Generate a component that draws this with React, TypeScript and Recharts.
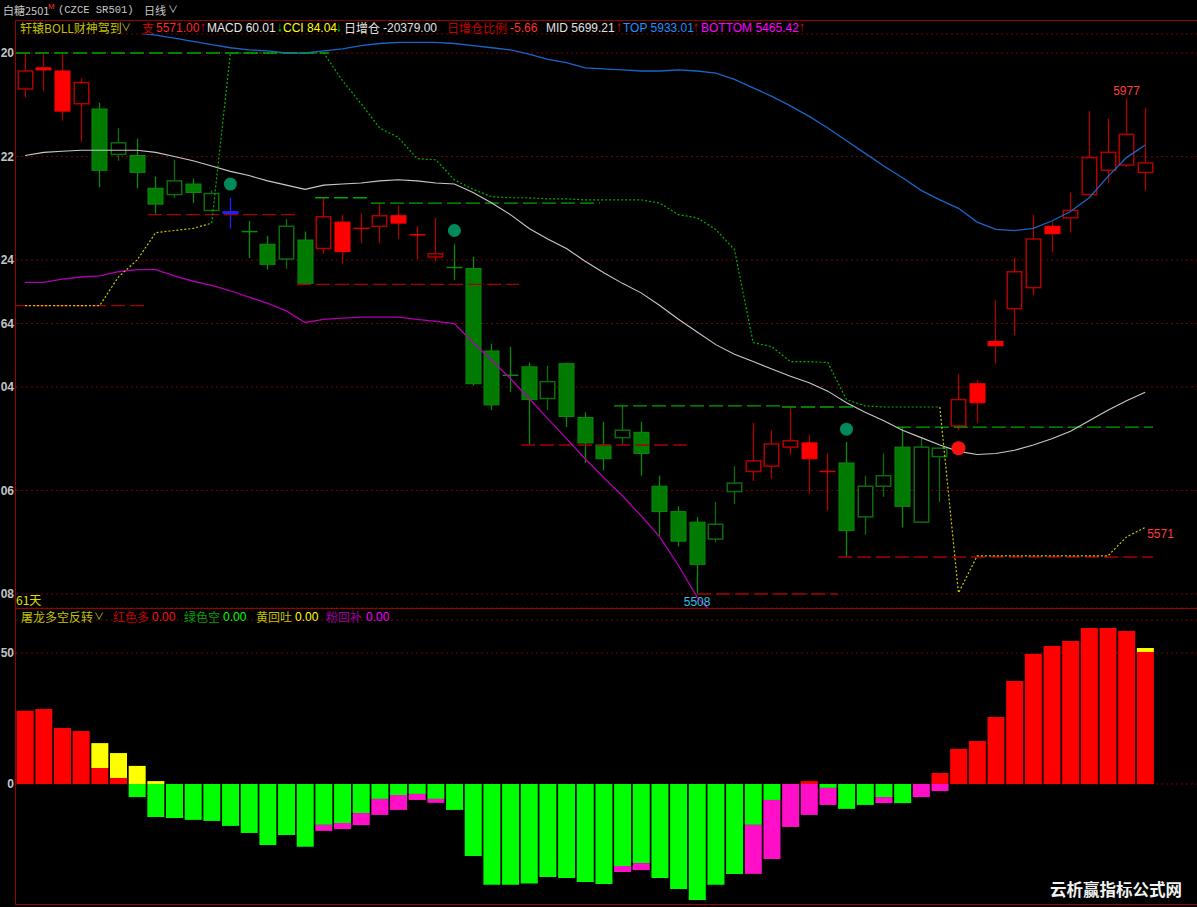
import React from 'react';
import {
  ComposedChart,
  Bar,
  Line,
  XAxis,
  YAxis,
  CartesianGrid,
  ReferenceLine,
  ReferenceDot,
} from 'recharts';

// ---------------- data ----------------
const candleIndex = Array.from({ length: 61 }, (_, i) => i);

const opens = [
  5986, 6006, 6003, 5972, 5967, 5924, 5923, 5892, 5886, 5896, 5871, 5869, 5851, 5839, 5825, 5843,
  5835, 5860, 5854, 5856, 5866, 5848, 5827, 5817, 5816, 5738, 5715, 5723, 5693, 5726, 5675, 5649,
  5656, 5661, 5610, 5586, 5576, 5560, 5605, 5624, 5629, 5647, 5651, 5624, 5632, 5581, 5610, 5647,
  5576, 5638, 5667, 5707, 5747, 5778, 5798, 5856, 5864, 5886, 5909, 5914, 5907,
];
const highs = [
  6020, 6019, 6019, 5996, 5973, 5949, 5939, 5903, 5919, 5901, 5890, 5883, 5861, 5847, 5863, 5851,
  5883, 5867, 5868, 5877, 5876, 5856, 5864, 5839, 5827, 5745, 5742, 5727, 5724, 5727, 5680, 5671,
  5686, 5671, 5620, 5591, 5581, 5595, 5629, 5670, 5663, 5685, 5659, 5641, 5652, 5620, 5641, 5666,
  5655, 5646, 5716, 5711, 5786, 5826, 5867, 5860, 5888, 5965, 5958, 5977, 5968,
];
const lows = [
  5978, 5984, 5956, 5936, 5893, 5918, 5892, 5868, 5883, 5878, 5870, 5854, 5826, 5815, 5816, 5801,
  5830, 5820, 5840, 5840, 5844, 5825, 5823, 5805, 5705, 5682, 5699, 5649, 5682, 5666, 5632, 5625,
  5649, 5620, 5563, 5553, 5508, 5557, 5593, 5615, 5617, 5640, 5603, 5587, 5543, 5564, 5600, 5571,
  5576, 5595, 5663, 5670, 5726, 5753, 5791, 5831, 5850, 5886, 5897, 5912, 5890,
];
const closes = [
  6003, 6004, 5965, 5992, 5909, 5935, 5907, 5877, 5899, 5888, 5887, 5869, 5851, 5820, 5856, 5802,
  5865, 5832, 5854, 5866, 5859, 5848, 5830, 5817, 5707, 5687, 5715, 5692, 5709, 5676, 5651, 5636,
  5663, 5641, 5586, 5558, 5536, 5574, 5613, 5634, 5650, 5653, 5636, 5624, 5568, 5610, 5620, 5591,
  5647, 5646, 5692, 5689, 5743, 5813, 5844, 5849, 5871, 5921, 5926, 5943, 5916,
];
// r = red trend, g = green trend, b = blue marker candle
const candleTones = (
  'rrrr' + 'ggggggg' + 'b' + 'gggg' + 'rrrrrrr' + 'gggggggggggggggg' + 'rrrrr' + 'gggggg' + 'rrrrrrrrrrr'
).split('');

const midLine = [
  5923, 5926, 5927, 5928, 5928, 5928, 5928, 5926, 5922, 5918, 5913, 5908, 5904, 5899, 5895, 5891,
  5895, 5896, 5897, 5899, 5900, 5899, 5897, 5896, 5888, 5878, 5867, 5854, 5844, 5835, 5823, 5812,
  5802, 5793, 5781, 5768, 5756, 5744, 5735, 5728, 5721, 5714, 5708, 5700, 5689, 5680, 5672, 5663,
  5656, 5649, 5643, 5640, 5641, 5644, 5649, 5655, 5662, 5672, 5682, 5691, 5699,
];
const topLine = [
  6047, 6047, 6046, 6045, 6044, 6042, 6039, 6037, 6034, 6031, 6028, 6025, 6023, 6022, 6020, 6020,
  6022, 6024, 6027, 6029, 6030, 6030, 6030, 6029, 6027, 6025, 6023, 6019, 6014, 6011, 6006, 6005,
  6004, 6003, 6003, 6004, 6003, 6001, 5995, 5987, 5979, 5970, 5960, 5949, 5937, 5925, 5913, 5902,
  5890, 5881, 5873, 5860, 5853, 5852, 5854, 5861, 5870, 5883, 5903, 5921, 5933,
];
const bottomLine = [
  5803, 5803, 5806, 5808, 5809, 5813, 5815, 5815, 5809, 5804, 5800, 5795, 5789, 5783, 5776, 5765,
  5768, 5769, 5770, 5770, 5770, 5768, 5766, 5764, 5746, 5729, 5712, 5693, 5674, 5655, 5636, 5618,
  5601, 5582, 5562, 5535, 5505, 5487, 5475, 5469, 5463, 5458, 5456, 5451, 5441, 5435, 5431, 5424,
  5422, 5417, 5413, 5420, 5429, 5436, 5444, 5449, 5454, 5461, 5461, 5461, 5465,
];
const supportLine = [
  5781, 5781, 5781, 5781, 5781, 5808, 5824, 5850, 5852, 5854, 5859, 6020, 6020, 6020, 6020, 6020,
  6020, 5994, 5972, 5949, 5940, 5920, 5919, 5900, 5891, 5884, 5883, 5883, 5882, 5882, 5881, 5881,
  5881, 5881, 5878, 5867, 5864, 5853, 5834, 5746, 5742, 5728, 5728, 5727, 5692, 5686, 5685, 5685,
  5685, 5685, 5509, 5544, 5544, 5544, 5544, 5544, 5544, 5544, 5544, 5562, 5571,
];
// y = yellow (support under price), g = green (pressure above price)
const supportState = ('yyyyyyyyyyy' + 'g'.repeat(39) + 'yyyyyyyyyyy').split('');

const levelSegments = [
  { from: -0.48, to: 16.3, price: 6020, kind: 'g' },
  { from: -0.48, to: 6.43, price: 5781, kind: 'r' },
  { from: 6.59, to: 14.52, price: 5867, kind: 'r' },
  { from: 15.53, to: 18.48, price: 5883, kind: 'g' },
  { from: 18.53, to: 30.8, price: 5878, kind: 'g' },
  { from: 14.57, to: 26.46, price: 5801, kind: 'r' },
  { from: 26.57, to: 35.46, price: 5649, kind: 'r' },
  { from: 31.55, to: 40.5, price: 5686, kind: 'g' },
  { from: 40.55, to: 44.35, price: 5685, kind: 'g' },
  { from: 46.7, to: 60.42, price: 5666, kind: 'g' },
  { from: 43.55, to: 60.42, price: 5543, kind: 'r' },
  { from: 36, to: 43.55, price: 5508, kind: 'r' },
];

const greenDots = [
  { i: 11, v: 5896 },
  { i: 23, v: 5852 },
  { i: 44, v: 5664 },
];
const redDots = [{ i: 50, v: 5646 }];

const priceTicks = [5508, 5606, 5704, 5764, 5824, 5922, 6020];

const redBars = [
  28, 28.6, 21.4, 20.2, 6.1, 2.3, 0, 0, 0, 0, 0, 0, 0, 0, 0, 0, 0, 0, 0, 0, 0, 0, 0, 0, 0, 0, 0, 0,
  0, 0, 0, 0, 0, 0, 0, 0, 0, 0, 0, 0, 0, 0, 1.1, 0, 0, 0, 0, 0, 0, 4.2, 13.4, 16.4, 25.6, 39.3, 49.6,
  52.7, 54.6, 59.5, 59.5, 58.4, 50.4,
];
const yellowBars = [
  0, 0, 0, 0, 9.5, 9.5, 6.9, 1.1, 0, 0, 0, 0, 0, 0, 0, 0, 0, 0, 0, 0, 0, 0, 0, 0, 0, 0, 0, 0, 0, 0,
  0, 0, 0, 0, 0, 0, 0, 0, 0, 0, 0, 0, 0, 0, 0, 0, 0, 0, 0, 0, 0, 0, 0, 0, 0, 0, 0, 0, 0, 0, 1.5,
];
const greenBars = [
  0, 0, 0, 0, 0, 0, -5, -12.6, -13, -13.7, -14.1, -16, -18.7, -23.3, -19.5, -24, -15.6, -14.9,
  -11.1, -5.7, -4.2, -3.8, -5.7, -9.9, -27.5, -38.5, -38.5, -38, -35.5, -35.9, -37.4, -38.2, -31.3,
  -30.2, -35.9, -40.1, -44.3, -38.5, -34.4, -15.6, -6.1, 0, 0, -1.5, -9.5, -8, -5, -7.3, 0, 0, 0, 0,
  0, 0, 0, 0, 0, 0, 0, 0, 0,
];
const pinkBars = [
  0, 0, 0, 0, 0, 0, 0, 0, 0, 0, 0, 0, 0, 0, 0, 0, -2.3, -2.3, -4.6, -6.1, -5.7, -2.3, -1.5, 0, 0, 0,
  0, 0, 0, 0, 0, 0, -2.3, -2.7, 0, 0, 0, 0, 0, -18.7, -22.5, -16.4, -11.8, -6.5, 0, 0, -2.3, 0, -5,
  -2.7, 0, 0, 0, 0, 0, 0, 0, 0, 0, 0, 0,
];
const oscTicks = [0, 50];

// ---------------- derived table ----------------
const rows = candleIndex.map((i) => {
  const yellowOn = supportState[i] === 'y' || supportState[i + 1] === 'y';
  const greenOn = supportState[i] === 'g' || supportState[i + 1] === 'g';
  return {
    i,
    open: opens[i],
    high: highs[i],
    low: lows[i],
    close: closes[i],
    tone: candleTones[i],
    range: [lows[i], highs[i]],
    mid: midLine[i],
    top: topLine[i],
    bottom: bottomLine[i],
    supY: yellowOn ? supportLine[i] : null,
    supG: greenOn ? supportLine[i] : null,
    red: redBars[i],
    yellow: yellowBars[i],
    green: greenBars[i],
    pink: pinkBars[i],
  };
});

const X_DOMAIN: [number, number] = [-0.482, 62.775];

// ---------------- candle shape ----------------
function CandleShape(props: any) {
  const { x, y, width, height, payload } = props;
  if (!payload || x == null || y == null) return null;
  const { open, close, high, low, tone } = payload;
  const top = Math.min(y, y + height);
  const h = Math.abs(height);
  const k = high > low ? h / (high - low) : 0;
  const py = (v: number) => top + (high - v) * k;
  const cx = Math.round(x + width / 2) + 0.5;
  const bw = 16;
  const left = cx - bw / 2;
  const bTop = py(Math.max(open, close));
  const bBot = py(Math.min(open, close));
  const up = close > open;
  const doji = Math.abs(open - close) < 0.5;
  const yH = py(high);
  const yL = py(low);

  if (tone === 'b') {
    return (
      <g>
        <line x1={cx} x2={cx} y1={yH} y2={yL} stroke="#2020ff" strokeWidth={1.3} />
        <line x1={left} x2={left + bw} y1={bTop} y2={bTop} stroke="#2020ff" strokeWidth={3} />
      </g>
    );
  }
  const red = tone === 'r';
  if (doji) {
    const c = red ? '#b00000' : '#0a8a0a';
    return (
      <g>
        <line x1={cx} x2={cx} y1={yH} y2={yL} stroke={c} strokeWidth={1.3} />
        <line x1={left} x2={left + bw} y1={bTop} y2={bTop} stroke={red ? '#e00000' : '#0a8a0a'} strokeWidth={1.5} />
      </g>
    );
  }
  if (up) {
    const c = red ? '#b00000' : '#0c6c0c';
    return (
      <g>
        <line x1={cx} x2={cx} y1={yH} y2={bTop} stroke={c} strokeWidth={1.3} />
        <line x1={cx} x2={cx} y1={bBot} y2={yL} stroke={c} strokeWidth={1.3} />
        <rect x={left + 0.75} y={bTop} width={bw - 1.5} height={Math.max(1, bBot - bTop)} fill="#000" stroke={c} strokeWidth={1.5} />
      </g>
    );
  }
  const fill = red ? '#ff0000' : '#007a00';
  const stroke = red ? '#ff0000' : '#0a8a0a';
  const wick = red ? '#a00000' : '#0a8a0a';
  return (
    <g>
      <line x1={cx} x2={cx} y1={yH} y2={yL} stroke={wick} strokeWidth={1.3} />
      <rect x={left + 0.5} y={bTop} width={bw - 1} height={Math.max(2, bBot - bTop)} fill={fill} stroke={stroke} strokeWidth={1} />
    </g>
  );
}

// ---------------- text helpers ----------------
const SANS = '"Liberation Sans", Arial, "Noto Sans CJK SC", sans-serif';
const CJK = '"Noto Sans CJK SC", "Liberation Sans", sans-serif';

function Txt({ left, top, color, children, size = 12, font = SANS, weight = 400 }: any) {
  return (
    <span
      style={{
        position: 'absolute',
        left,
        top,
        color,
        fontSize: size,
        lineHeight: '14px',
        whiteSpace: 'nowrap',
        fontFamily: font,
        fontWeight: weight,
      }}
    >
      {children}
    </span>
  );
}

function Arrow({ left, top, color, up }: any) {
  return (
    <span
      style={{
        position: 'absolute',
        left,
        top,
        color,
        fontSize: 12,
        lineHeight: '14px',
        fontFamily: '"DejaVu Sans", sans-serif',
        display: 'inline-block',
        transform: 'scaleX(0.55)',
        transformOrigin: 'left center',
      }}
    >
      {up ? '↑' : '↓'}
    </span>
  );
}

const axisTick = { fill: '#c4c4c4', fontSize: 12, fontWeight: 'bold', fontFamily: SANS };

export default function App() {
  return (
    <div
      style={{
        position: 'absolute',
        left: 0,
        top: 0,
        width: 1197,
        height: 907,
        background: '#000',
        overflow: 'hidden',
      }}
    >
      {/* main price panel */}
      <ComposedChart
        width={1197}
        height={608}
        data={rows}
        margin={{ top: 34, right: 0, bottom: 0, left: 0 }}
        style={{ position: 'absolute', left: 0, top: 0 }}
      >
        <CartesianGrid vertical={false} stroke="#7a0000" strokeDasharray="2 3" />
        <XAxis type="number" dataKey="i" domain={X_DOMAIN} hide allowDataOverflow />
        <YAxis
          type="number"
          domain={[5494.75, 6038]}
          allowDataOverflow
          ticks={priceTicks}
          interval={0}
          width={16}
          axisLine={false}
          tickLine={false}
          tickSize={0}
          tickMargin={2}
          tick={axisTick}
          tickFormatter={(v: number) => String(v).slice(-2)}
        />
        {levelSegments.map((s, k) => (
          <ReferenceLine
            key={`seg${k}`}
            segment={[
              { x: s.from, y: s.price },
              { x: s.to, y: s.price },
            ]}
            stroke={s.kind === 'g' ? '#00a800' : '#a80000'}
            strokeWidth={1.3}
            strokeDasharray="14 5"
            ifOverflow="visible"
          />
        ))}
        <Line dataKey="bottom" stroke="#b000b0" strokeWidth={1.3} dot={false} isAnimationActive={false} />
        <Line dataKey="top" stroke="#1a66c8" strokeWidth={1.3} dot={false} isAnimationActive={false} />
        <Line dataKey="mid" stroke="#c8c8c8" strokeWidth={1.1} dot={false} isAnimationActive={false} />
        <Line dataKey="supY" stroke="#c8c800" strokeWidth={1.2} strokeDasharray="2 2" dot={false} connectNulls={false} isAnimationActive={false} />
        <Line dataKey="supG" stroke="#00b000" strokeWidth={1.2} strokeDasharray="2 2" dot={false} connectNulls={false} isAnimationActive={false} />
        <Bar dataKey="range" barSize={16} shape={CandleShape} isAnimationActive={false} />
        {greenDots.map((d) => (
          <ReferenceDot key={`gd${d.i}`} x={d.i} y={d.v} r={6.5} fill="#00895a" stroke="none" />
        ))}
        {redDots.map((d) => (
          <ReferenceDot key={`rd${d.i}`} x={d.i} y={d.v} r={7} fill="#ff1010" stroke="none" />
        ))}
        <ReferenceDot
          x={59}
          y={5977}
          r={0}
          stroke="none"
          label={{ value: '5977', position: 'top', offset: 3, fill: '#ff3a3a', fontSize: 12, fontFamily: SANS }}
        />
        <ReferenceDot
          x={36}
          y={5508}
          r={0}
          stroke="none"
          label={{ value: '5508', position: 'bottom', offset: 3, fill: '#2ec0e8', fontSize: 12, fontFamily: SANS }}
        />
        <ReferenceDot
          x={60}
          y={5571}
          r={0}
          stroke="none"
          label={{ value: '5571', position: 'insideTopLeft', offset: 2, fill: '#ff3a3a', fontSize: 12, fontFamily: SANS }}
        />
      </ComposedChart>

      {/* oscillator panel */}
      <ComposedChart
        width={1197}
        height={297}
        data={rows}
        stackOffset="sign"
        margin={{ top: 12, right: 0, bottom: 0, left: 0 }}
        style={{ position: 'absolute', left: 0, top: 608 }}
      >
        <CartesianGrid vertical={false} stroke="#7a0000" strokeDasharray="2 3" />
        <XAxis type="number" dataKey="i" domain={X_DOMAIN} hide allowDataOverflow />
        <YAxis
          type="number"
          domain={[-46.2, 62.6]}
          allowDataOverflow
          ticks={oscTicks}
          interval={0}
          width={16}
          axisLine={false}
          tickLine={false}
          tickSize={0}
          tickMargin={2}
          tick={axisTick}
        />
        <Bar dataKey="red" stackId="s" fill="#ff0000" barSize={17} isAnimationActive={false} />
        <Bar dataKey="yellow" stackId="s" fill="#ffff00" barSize={17} isAnimationActive={false} />
        <Bar dataKey="green" stackId="s" fill="#00ff00" barSize={17} isAnimationActive={false} />
        <Bar dataKey="pink" stackId="s" fill="#ff10c8" barSize={17} isAnimationActive={false} />
      </ComposedChart>

      {/* frame lines */}
      <div style={{ position: 'absolute', left: 15, top: 20, width: 1182, height: 1, background: '#9a0000' }} />
      <div style={{ position: 'absolute', left: 15, top: 20, width: 1, height: 885, background: '#9a0000' }} />
      <div style={{ position: 'absolute', left: 15, top: 608, width: 1182, height: 1, background: '#9a0000' }} />
      <div style={{ position: 'absolute', left: 15, top: 904, width: 1182, height: 1, background: '#9a0000' }} />

      {/* title bar */}
      <Txt left={3} top={3} color="#c8c8c8" size={11} font={CJK}>白糖2501</Txt>
      <Txt left={48} top={0} color="#ff3030" size={8}>M</Txt>
      <Txt left={58} top={3} color="#c8c8c8" size={10.5} font='"Liberation Mono", monospace'>(CZCE SR501)</Txt>
      <Txt left={144} top={3} color="#c8c8c8" size={11} font={CJK}>日线</Txt>
      <Txt left={168} top={3} color="#c8c8c8" size={10}>∨</Txt>

      {/* main indicator header */}
      <Txt left={20} top={21} color="#c0c000" font={CJK}>轩辕BOLL财神驾到</Txt>
      <Txt left={121} top={21} color="#c0c000" size={10}>∨</Txt>
      <Txt left={142} top={21} color="#d00000" font={CJK}>支</Txt>
      <Txt left={156} top={21} color="#ff2626">5571.00</Txt>
      <Arrow left={200} top={21} color="#d00000" up />
      <Txt left={207} top={21} color="#e6e6e6">MACD 60.01</Txt>
      <Arrow left={277} top={21} color="#00b000" />
      <Txt left={283} top={21} color="#ffff00">CCI 84.04</Txt>
      <Arrow left={336} top={21} color="#00b000" />
      <Txt left={344} top={21} color="#e0e0e0" font={CJK}>日增仓</Txt>
      <Txt left={383} top={21} color="#e0e0e0">-20379.00</Txt>
      <Txt left={447} top={21} color="#c00000" font={CJK}>日增仓比例</Txt>
      <Txt left={510} top={21} color="#ff3030">-5.66</Txt>
      <Txt left={546} top={21} color="#e0e0e0">MID 5699.21</Txt>
      <Arrow left={616} top={21} color="#d00000" up />
      <Txt left={623} top={21} color="#1e90ff">TOP 5933.01</Txt>
      <Arrow left={693} top={21} color="#d00000" up />
      <Txt left={701} top={21} color="#ff00ff">BOTTOM 5465.42</Txt>
      <Arrow left={799} top={21} color="#d00000" up />

      <Txt left={16} top={593} color="#e0e000" font={CJK}>61天</Txt>

      {/* oscillator header */}
      <Txt left={21} top={610} color="#c0c000" font={CJK}>屠龙多空反转</Txt>
      <Txt left={94} top={610} color="#c0c000" size={10}>∨</Txt>
      <Txt left={113} top={610} color="#c00000" font={CJK}>红色多</Txt>
      <Txt left={152} top={610} color="#ff1010">0.00</Txt>
      <Txt left={184} top={610} color="#00a000" font={CJK}>绿色空</Txt>
      <Txt left={223} top={610} color="#00ff00">0.00</Txt>
      <Txt left={256} top={610} color="#c0c000" font={CJK}>黄回吐</Txt>
      <Txt left={295} top={610} color="#ffff00">0.00</Txt>
      <Txt left={326} top={610} color="#a000a0" font={CJK}>粉回补</Txt>
      <Txt left={366} top={610} color="#ff00ff">0.00</Txt>

      {/* watermark */}
      <Txt left={1050} top={882} color="#f2f2f2" size={16.5} font={CJK} weight={700}>云析赢指标公式网</Txt>
    </div>
  );
}
